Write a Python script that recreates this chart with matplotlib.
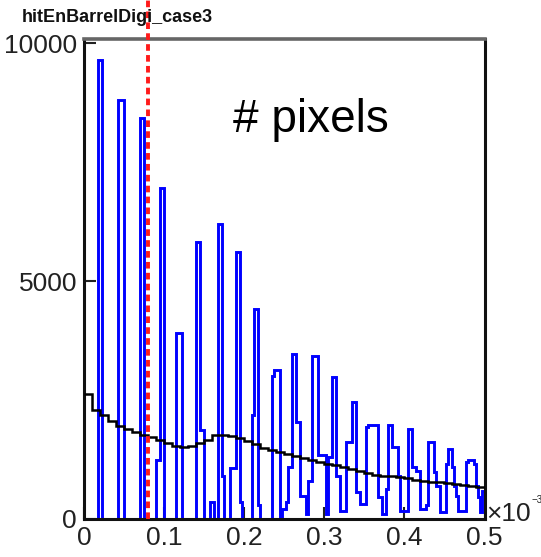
import matplotlib
matplotlib.use("Agg")
import matplotlib.pyplot as plt
import numpy as np

plt.rcParams["font.family"] = ["Liberation Sans", "DejaVu Sans"]

# hit energy, 200 bins of 0.0025 over [0, 0.5] (one row = 10 bins)
case3_counts = [
    0, 0, 0, 0, 0, 0, 0, 9640, 9640, 0,
    0, 0, 0, 0, 0, 0, 0, 8800, 8800, 8800,
    0, 0, 0, 0, 0, 0, 0, 0, 8430, 8430,
    0, 0, 0, 0, 0, 0, 1250, 1250, 6960, 6960,
    0, 0, 0, 0, 0, 0, 3910, 3910, 3910, 0,
    0, 0, 0, 0, 0, 0, 5820, 5820, 1880, 1880,
    0, 0, 0, 350, 350, 0, 0, 6200, 6200, 900,
    0, 0, 0, 1080, 1080, 1080, 5610, 5610, 350, 0,
    0, 0, 0, 0, 2190, 4410, 4410, 300, 0, 0,
    0, 0, 0, 0, 3000, 3130, 3130, 3130, 0, 200,
    200, 350, 1100, 1100, 3460, 3460, 2040, 2040, 480, 480,
    480, 100, 790, 790, 3420, 3420, 3420, 1350, 1350, 1350,
    1350, 100, 1300, 1300, 2980, 2980, 900, 900, 170, 170,
    170, 1620, 1620, 1620, 2460, 2460, 560, 560, 310, 310,
    310, 1940, 1980, 1980, 1980, 1980, 1980, 460, 460, 100,
    100, 625, 1980, 1980, 1520, 1520, 1520, 900, 170, 170,
    170, 170, 1895, 1895, 1100, 1100, 1000, 1000, 200, 200,
    200, 300, 1610, 1610, 1610, 980, 690, 690, 140, 140,
    140, 1150, 1480, 1480, 1100, 690, 480, 170, 170, 170,
    170, 1200, 1250, 1250, 1250, 1150, 700, 460, 150, 580,
]

# smooth reference spectrum, 50 bins of 0.01
ref_counts = [
    2620, 2290, 2180, 2070, 1950, 1900, 1830, 1760, 1720, 1660,
    1600, 1540, 1520, 1540, 1590, 1670, 1760, 1770, 1750, 1700,
    1640, 1570, 1500, 1440, 1400, 1360, 1320, 1280, 1240, 1200,
    1150, 1130, 1100, 1050, 1000, 970, 930, 910, 900, 880,
    860, 820, 800, 780, 770, 760, 740, 720, 700, 670,
]

threshold = 0.08

x_ticks = [0, 0.1, 0.2, 0.3, 0.4, 0.5]
x_labels = ["0", "0.1", "0.2", "0.3", "0.4", "0.5"]
y_ticks = [0, 5000, 10000]
y_labels = ["0", "5000", "10000"]

W, H = 541, 557
fig = plt.figure(figsize=(W / 100, H / 100), dpi=100)
ax = fig.add_axes([84 / W, 38 / H, 400.5 / W, 480.5 / H])

edges = np.linspace(0, 0.5, len(case3_counts) + 1)
ax.stairs(case3_counts, edges, color="#0000ff", lw=2.1, baseline=0, zorder=2)

ref_edges = np.linspace(0, 0.5, len(ref_counts) + 1)
ax.stairs(ref_counts, ref_edges, color="black", lw=1.8, baseline=None, zorder=3)

# cut line, runs up past the frame to the top of the canvas
ax.axvline(threshold, ymin=0, ymax=519 / 480.5, color="#ff1a1a", lw=2.8,
           ls=(0, (1.7, 1.1)), clip_on=False, zorder=5)

ax.set_xlim(0, 0.5)
ax.set_ylim(0, 10100)
ax.set_xticks(x_ticks)
ax.set_xticklabels(x_labels)
ax.set_yticks(y_ticks)
ax.set_yticklabels(y_labels)
ax.tick_params(direction="in", length=8.6, width=1.5, labelsize=19,
               colors="#222222")
ax.tick_params(axis="x", pad=5)
ax.tick_params(axis="y", pad=5)

for side in ["left", "right", "bottom"]:
    ax.spines[side].set_linewidth(2.2)
    ax.spines[side].set_color("#111111")
ax.spines["top"].set_linewidth(2.6)
ax.spines["top"].set_color("#666666")

fig.text(22 / W, 1 - 18 / H, "hitEnBarrelDigi_case3", fontsize=13,
         fontweight="bold", ha="left", va="center", color="#111111")
fig.text(233 / W, 1 - 132 / H, "# pixels", fontsize=33, ha="left",
         va="baseline")
fig.text(486 / W, 1 - 514 / H, "×10", fontsize=19, ha="left", va="center",
         color="#222222")
fig.text(531 / W, 1 - 500 / H, "−3", fontsize=7, ha="left", va="center",
         color="#222222")

fig.savefig("out.png", dpi=100)
plt.close(fig)
